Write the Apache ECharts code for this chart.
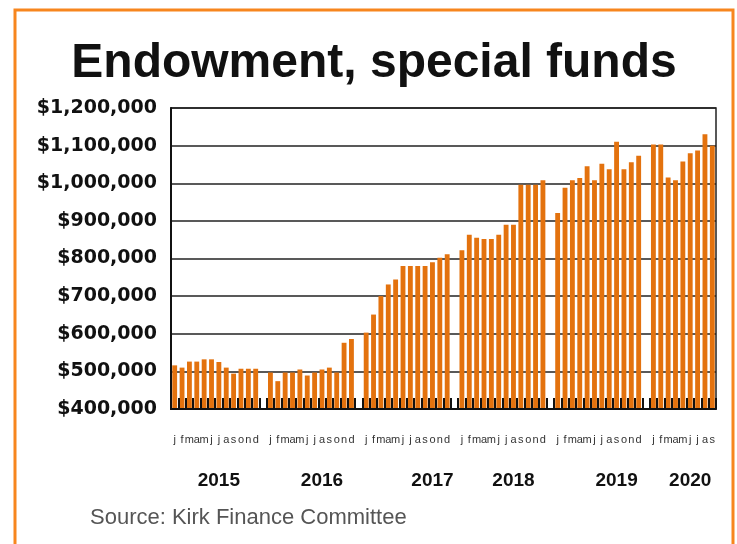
<!DOCTYPE html>
<html>
<head>
<meta charset="utf-8">
<script src="https://cdn.jsdelivr.net/npm/echarts@6/dist/echarts.min.js"></script>
<style>
html,body{margin:0;padding:0;background:#fff;}
#chart{width:737px;height:544px;}
</style>
</head>
<body>
<div id="chart"></div>
<script>
// ---- data ----
const titleText = 'Endowment, special funds';
const sourceText = 'Source: Kirk Finance Committee';
const years = ['2015', '2016', '2017', '2018', '2019', '2020'];
const monthLetters = ['j', 'f', 'm', 'a', 'm', 'j', 'j', 'a', 's', 'o', 'n', 'd'];
const endow2015 = [516000, 510000, 526000, 526000, 532000, 532000, 525000, 510000, 494000, 507000, 507000, 507000];
const endow2016 = [497000, 474000, 497000, 497000, 505000, 489000, 497000, 505000, 510000, 497000, 576000, 586000];
const endow2017 = [603000, 651000, 700000, 731000, 744000, 780000, 780000, 780000, 780000, 790000, 802000, 811000];
const endow2018 = [822000, 863000, 855000, 852000, 852000, 863000, 890000, 890000, 996000, 996000, 996000, 1008000];
const endow2019 = [921000, 988000, 1008000, 1014000, 1045000, 1008000, 1052000, 1037000, 1110000, 1037000, 1056000, 1073000];
const endow2020 = [1103000, 1103000, 1015000, 1008000, 1058000, 1080000, 1087000, 1130000, 1100000];
const yTicks = [400000, 500000, 600000, 700000, 800000, 900000, 1000000, 1100000, 1200000];

// ---- build slots (one per month, one empty slot between years) ----
const yearValues = [endow2015, endow2016, endow2017, endow2018, endow2019, endow2020];
const slotKeys = [], slotLabels = [], slotValues = [];
yearValues.forEach((vals, k) => {
  vals.forEach((v, i) => {
    slotKeys.push(years[k] + '-' + (i + 1));
    slotLabels.push(monthLetters[i]);
    slotValues.push(v);
  });
  if (k < yearValues.length - 1) {
    slotKeys.push('gap-' + k);
    slotLabels.push('');
    slotValues.push(null);
  }
});
// layout: which slot each year caption sits under
const yearLabelSlot = [6, 20, 35, 46, 60, 70];

const chart = echarts.init(document.getElementById('chart'), null, {renderer: 'canvas'});
const fmt = v => '$' + v.toLocaleString('en-US');

chart.setOption({
  animation: false,
  backgroundColor: '#fff',
  grid: {left: 171, right: 21, top: 108, bottom: 135, show: true, borderColor: '#222', borderWidth: 1.5, backgroundColor: 'transparent'},
  xAxis: [{
    type: 'category',
    data: slotKeys,
    z: 10,
    axisLine: {lineStyle: {color: '#111', width: 2}},
    axisTick: {
      show: true,
      inside: true, length: 11,
      lineStyle: {color: '#111', width: 2},
      interval: 0
    },
    axisLabel: {
      interval: 0, margin: 25,
      fontFamily: 'Liberation Sans', fontSize: 11, color: '#333',
      formatter: (v, i) => slotLabels[i]
    }
  }, {
    type: 'category',
    data: slotKeys,
    position: 'bottom',
    axisLine: {show: false},
    axisTick: {show: false},
    axisLabel: {
      interval: 0, margin: 62,
      fontFamily: 'Liberation Sans', fontWeight: 'bold', fontSize: 19, color: '#111',
      formatter: (v, i) => {
        const k = yearLabelSlot.indexOf(i);
        return k >= 0 ? years[k] : '';
      }
    }
  }],
  yAxis: {
    type: 'value',
    min: yTicks[0], max: yTicks[yTicks.length - 1], interval: 100000,
    axisLine: {show: true, lineStyle: {color: '#111', width: 2}},
    axisTick: {show: false},
    splitLine: {lineStyle: {color: '#222', width: 1.5}},
    axisLabel: {
      margin: 14,
      fontFamily: 'DejaVu Sans', fontWeight: 'bold', fontSize: 19, color: '#111',
      formatter: fmt
    }
  },
  series: [{
    type: 'bar',
    xAxisIndex: 0,
    z: 1,
    data: slotValues,
    barCategoryGap: '34%',
    itemStyle: {color: '#E3720E'}
  }],
  graphic: [
    {type: 'rect', shape: {x: 15, y: 10, width: 718, height: 620}, style: {fill: 'none', stroke: '#F7861E', lineWidth: 3}, silent: true},
    {type: 'text', x: 374, y: 64, style: {text: titleText, font: 'bold 48px "Liberation Sans", Arial, sans-serif', fill: '#111', textAlign: 'center', textVerticalAlign: 'middle'}},
    {type: 'text', x: 90, y: 518, style: {text: sourceText, font: '22px "Liberation Sans", Arial, sans-serif', fill: '#555', textAlign: 'left', textVerticalAlign: 'middle'}}
  ]
});
</script>
</body>
</html>
